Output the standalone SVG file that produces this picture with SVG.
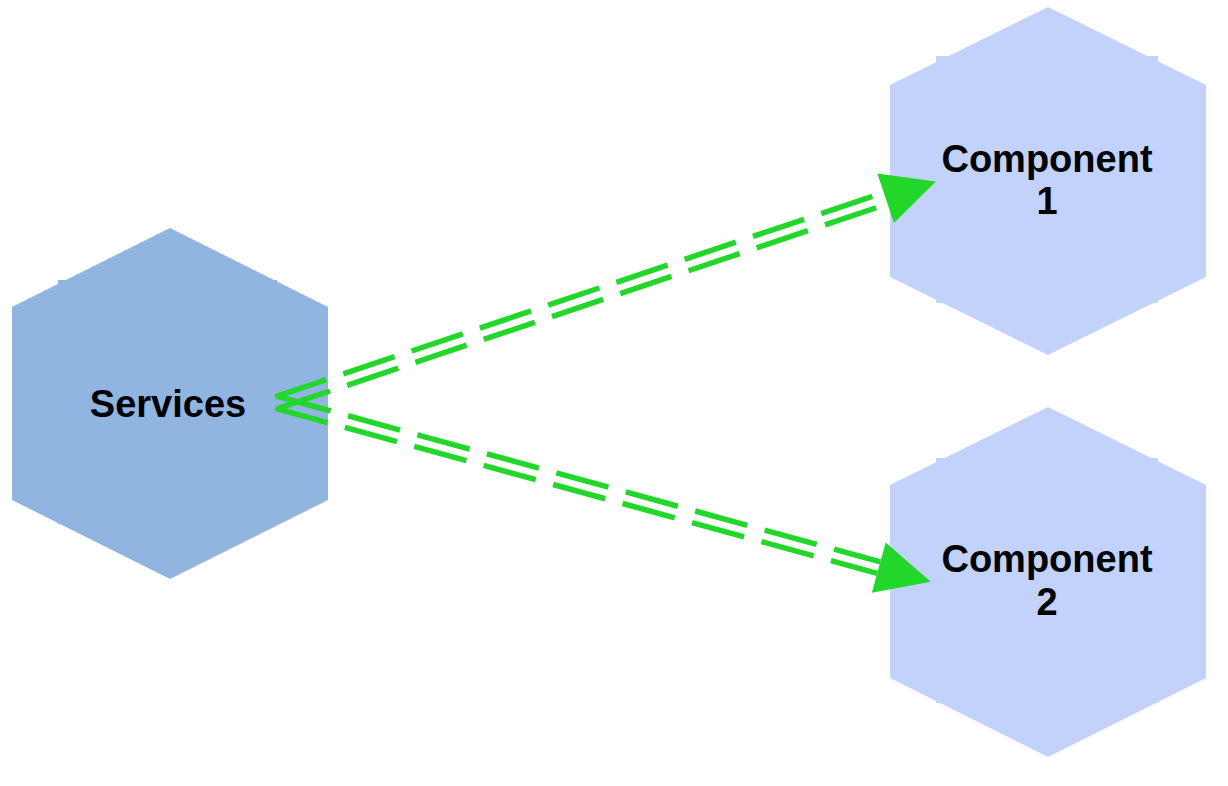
<svg xmlns="http://www.w3.org/2000/svg" width="1228" height="786" viewBox="0 0 1228 786">
  <style>
    .label { font-family: "Liberation Sans", Arial, sans-serif; font-weight: bold; font-size: 38px; fill: #000000; text-anchor: middle; }
    .svc { fill: #8fb5e0; }
    .cmp { fill: #c3d2fb; }
    .rail { stroke: #22d72a; stroke-width: 5.5; fill: none; stroke-dasharray: 54 18; }
    .head { fill: #22d72a; }
  </style>
  <rect width="1228" height="786" fill="#ffffff"/>

  <!-- Services node -->
  <g id="node-services">
    <rect class="svc" x="58" y="280" width="219" height="244"/>
    <polygon class="svc" points="170,228 328,307 328,500 170,579 12,500 12,307"/>
    <text class="label" x="168" y="417">Services</text>
  </g>

  <!-- Component 1 node -->
  <g id="node-component1">
    <rect class="cmp" x="936" y="56" width="222" height="247"/>
    <polygon class="cmp" points="1048,7 1206,85 1206,277 1048,355 890,277 890,85"/>
    <text class="label" x="1047" y="172">Component</text>
    <text class="label" x="1047" y="214">1</text>
  </g>

  <!-- Component 2 node -->
  <g id="node-component2">
    <rect class="cmp" x="936" y="458" width="222" height="245"/>
    <polygon class="cmp" points="1048,407 1206,485 1206,678 1048,757 890,678 890,485"/>
    <text class="label" x="1047" y="572">Component</text>
    <text class="label" x="1047" y="615">2</text>
  </g>

  <!-- Connectors: dashed double lines with filled arrowheads -->
  <g id="connectors">
    <g id="edge-services-component1" transform="translate(277,402.5) rotate(-18.55)">
      <line class="rail" x1="0" y1="-6" x2="642" y2="-6"/>
      <line class="rail" x1="0" y1="6" x2="642" y2="6"/>
      <polygon class="head" points="642,-26 695,0 642,26"/>
    </g>
    <g id="edge-services-component2" transform="translate(277,402.5) rotate(15.34)">
      <line class="rail" x1="0" y1="-6" x2="624" y2="-6"/>
      <line class="rail" x1="0" y1="6" x2="624" y2="6"/>
      <polygon class="head" points="624,-26 678,0 624,26"/>
    </g>
  </g>
</svg>
